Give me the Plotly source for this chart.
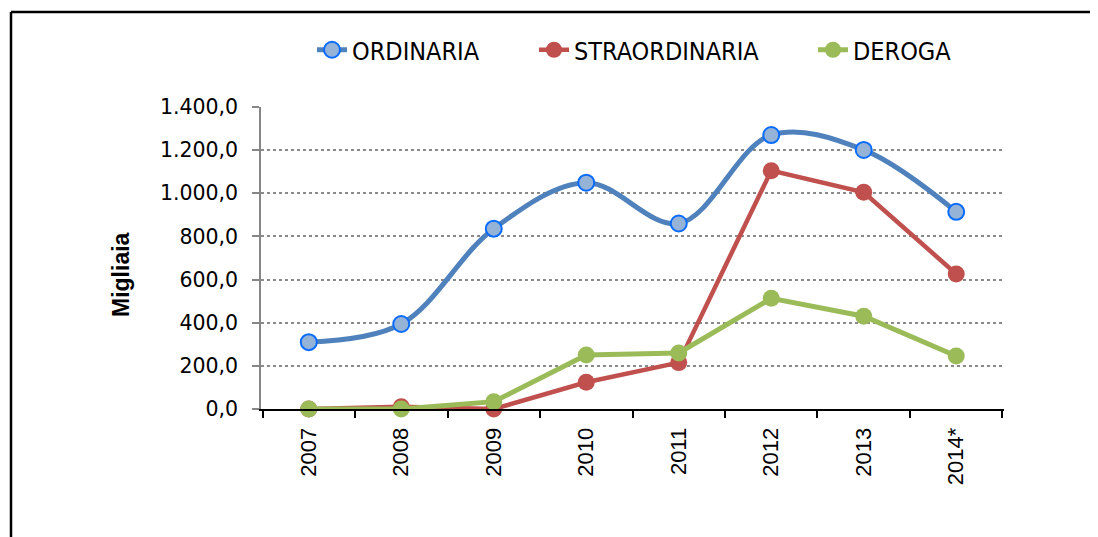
import plotly.graph_objects as go

years = ["2007", "2008", "2009", "2010", "2011", "2012", "2013", "2014*"]
ordinaria = [310, 394, 836, 1049, 860, 1270, 1201, 914]
straordinaria = [0, 10, 0, 124, 215, 1105, 1005, 626]
deroga = [0, 0, 34, 250, 260, 513, 430, 246]
y_ticks = [0, 200, 400, 600, 800, 1000, 1200, 1400]

# page has an 8px body margin; work in page pixel coordinates
OFF = 8
W, H = 1098 - OFF, 537 - OFF
PL, PR, PT, PB = 261, 1004, 107, 409  # plot area in page px
ML, MT = PL - OFF, PT - OFF
MR, MB = W - (PR - OFF), H - (PB - OFF)
PW, PH = PR - PL, PB - PT


def px_x(p):
    return (p - PL) / PW


def px_y(p):
    return (PB - p) / PH


fig = go.Figure()
fig.add_trace(go.Scatter(
    x=years, y=ordinaria, name="ORDINARIA", mode="lines+markers",
    line=dict(color="#4F81BD", width=5, shape="spline", smoothing=1),
    marker=dict(size=16, color="#95B3D7", line=dict(color="#0A6CFF", width=2)),
    cliponaxis=False, legend="legend",
))
fig.add_trace(go.Scatter(
    x=years, y=straordinaria, name="STRAORDINARIA", mode="lines+markers",
    line=dict(color="#C0504D", width=4.5),
    marker=dict(size=17, color="#C0504D"),
    cliponaxis=False, legend="legend2",
))
fig.add_trace(go.Scatter(
    x=years, y=deroga, name="DEROGA", mode="lines+markers",
    line=dict(color="#9BBB59", width=5),
    marker=dict(size=17, color="#9BBB59"),
    cliponaxis=False, legend="legend3",
))

leg_font = dict(family="DejaVu Sans Condensed, DejaVu Sans", size=25, color="black")


def leg(xpage):
    return dict(orientation="h", x=px_x(xpage), xanchor="left", y=px_y(50), yanchor="middle",
                font=leg_font, bgcolor="rgba(0,0,0,0)", borderwidth=0)


fig.update_layout(
    width=W, height=H,
    margin=dict(l=ML, r=MR, t=MT, b=MB, autoexpand=False),
    paper_bgcolor="white", plot_bgcolor="white",
    separators=",.",
    showlegend=True,
    legend=leg(312),
    legend2=leg(534),
    legend3=leg(813),
    xaxis=dict(
        type="category", categoryorder="array", categoryarray=years,
        showline=True, linecolor="black", linewidth=2,
        ticks="outside", tickson="boundaries", ticklen=7, tickcolor="black", tickwidth=2,
        tickangle=-90, ticklabelstandoff=8,
        tickfont=dict(family="Liberation Sans, Arial", size=22, color="black"),
        showgrid=False, zeroline=False, fixedrange=True,
    ),
    yaxis=dict(
        range=[0, 1400], tickvals=y_ticks, tickformat=",.1f",
        showline=True, linecolor="#868686", linewidth=1.5,
        ticks="outside", ticklen=7, tickcolor="#868686", tickwidth=1.5,
        ticklabelstandoff=10,
        tickfont=dict(family="DejaVu Sans, Verdana", size=20.5, color="black"),
        showgrid=True, gridcolor="#8a8a8a", gridwidth=1.5, griddash="dot",
        zeroline=True, zerolinecolor="black", zerolinewidth=2, fixedrange=True,
    ),
    annotations=[dict(
        text="<b>Migliaia</b>", xref="paper", yref="paper",
        x=px_x(121), y=px_y(275), xanchor="center", yanchor="middle",
        textangle=-90, showarrow=False,
        font=dict(family="Liberation Sans, Arial", size=23, color="black"),
    )],
    shapes=[
        dict(type="line", xref="paper", yref="paper",
             x0=px_x(11), x1=px_x(1120), y0=px_y(12), y1=px_y(12),
             line=dict(color="black", width=2.5)),
        dict(type="line", xref="paper", yref="paper",
             x0=px_x(11), x1=px_x(11), y0=px_y(12), y1=px_y(560),
             line=dict(color="black", width=2.5)),
    ],
)

fig.write_html("out.html")
